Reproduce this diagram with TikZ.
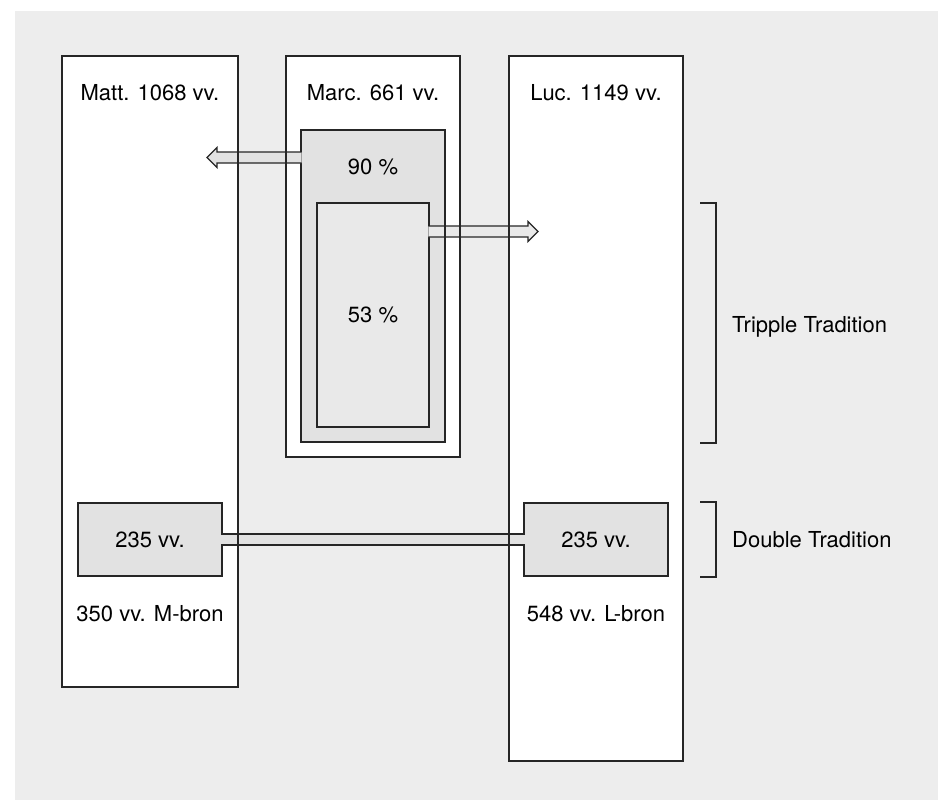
\documentclass[tikz,border=0pt]{standalone}
\usepackage{fontspec}
\setmainfont{TeX Gyre Heros}
\usetikzlibrary{calc}
\definecolor{Backdrop}{HTML}{EDEDED}
\definecolor{Frame}{HTML}{262626}
\definecolor{Shade}{HTML}{E2E2E2}
\definecolor{Light}{HTML}{E9E9E9}
\tikzset{
  frameline/.style={draw=Frame,line width=1.2pt},
  col/.style={rectangle,fill=white,draw=none,outer sep=0pt,inner sep=0pt,anchor=north west},
  box/.style={rectangle,frameline,fill=Shade,outer sep=0pt,inner sep=0pt,anchor=north west},
  innerbox/.style={box,fill=Light},
  lab/.style={font=\fontsize{22}{26}\selectfont,inner sep=0pt},
  shaft/.style={frameline,line join=miter},
  bracket/.style={frameline,line width=1.1pt}
}
\begin{document}
\begin{tikzpicture}[x=1pt,y=-1pt]
  \useasboundingbox (0,0) rectangle (938,800);
  \fill[Backdrop] (15,11) rectangle (938,800);
  % gospel columns
  \node[col,minimum width=176,minimum height=631] (matt) at (62,56) {};
  \node[col,minimum width=174,minimum height=401] (marc) at (286,56) {};
  \node[col,minimum width=174,minimum height=705] (luke) at (509,56) {};
  % shared material
  \node[box,minimum width=144,minimum height=312] (p90) at (301,130) {};
  \node[innerbox,lab,minimum width=112,minimum height=224] (p53) at (317,203) {53~\%};
  \node[box,lab,minimum width=144,minimum height=73] (m235) at (78,503) {235 vv.};
  \node[box,lab,minimum width=144,minimum height=73] (l235) at (524,503) {235 vv.};
  % arrows out of Marc
  \coordinate (tipM) at ($(matt.north east)+(-31,101.5)$);
  \coordinate (tipL) at ($(luke.north west)+(29,175.5)$);
  \draw[shaft,fill=Shade] ($(p90.west |- tipM)+(0.6,-5.5)$) -- ($(tipM)+(10,-5.5)$)
    -- ($(tipM)+(10,-10)$) -- (tipM) -- ($(tipM)+(10,10)$) -- ($(tipM)+(10,5.5)$)
    -- ($(p90.west |- tipM)+(0.6,5.5)$);
  \draw[shaft,fill=Light] ($(p53.east |- tipL)+(-0.6,-5.5)$) -- ($(tipL)+(-10,-5.5)$)
    -- ($(tipL)+(-10,-10)$) -- (tipL) -- ($(tipL)+(-10,10)$) -- ($(tipL)+(-10,5.5)$)
    -- ($(p53.east |- tipL)+(-0.6,5.5)$);
  % link between the two 235 blocks
  \fill[Shade] ($(m235.east)+(-0.6,-5.5)$) rectangle ($(l235.west)+(0.6,5.5)$);
  \draw[frameline] ($(m235.east)+(-0.6,-5.5)$) -- ($(l235.west)+(0.6,-5.5)$)
    ($(m235.east)+(-0.6,5.5)$) -- ($(l235.west)+(0.6,5.5)$);
  % column borders on top
  \foreach \c in {matt,marc,luke}
    \draw[frameline] (\c.north west) rectangle (\c.south east);
  \draw[frameline] (p90.north east) -- (p90.south east);
  % labels
  \node[lab,anchor=base] (mattT) at (150,100) {Matt. 1068 vv.};
  \node[lab,anchor=base] (marcT) at (373,100) {Marc. 661 vv.};
  \node[lab,anchor=base] (lukeT) at (596,100) {Luc. 1149 vv.};
  \node[lab,anchor=base] (p90T) at (373,175) {90~\%};
  \node[lab,anchor=base] (mSrc) at (150,621) {350 vv. M-bron};
  \node[lab,anchor=base] (lSrc) at (596,621) {548 vv. L-bron};
  % brackets
  \draw[bracket] (700,203) -| (716,443) -- (700,443);
  \draw[bracket] (700,502) -| (716,577) -- (700,577);
  \node[lab,anchor=base west] (triple) at (732,332) {Tripple Tradition};
  \node[lab,anchor=base west] (double) at (732,547) {Double Tradition};
\end{tikzpicture}
\end{document}
